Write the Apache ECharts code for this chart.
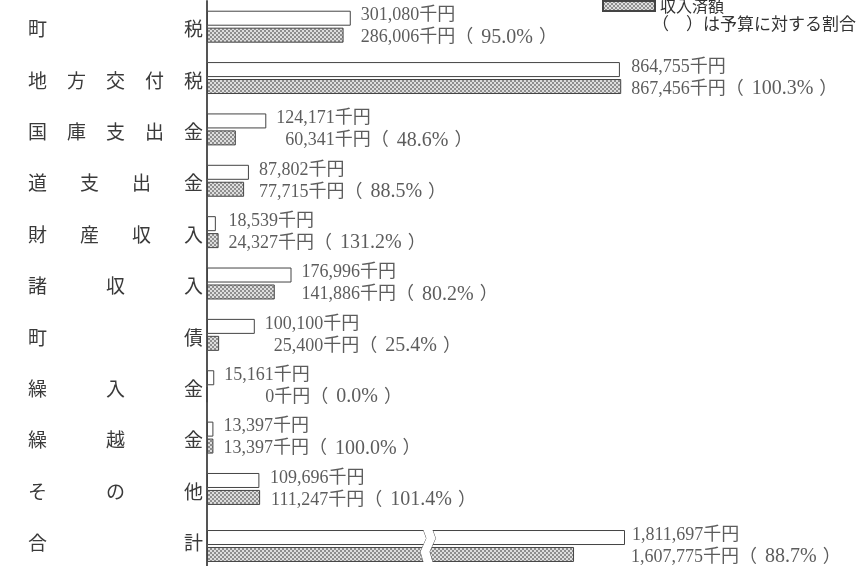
<!DOCTYPE html>
<html><head><meta charset="utf-8">
<script src="https://cdn.jsdelivr.net/npm/echarts@6/dist/echarts.min.js"></script>
<style>html,body{margin:0;padding:0;background:#fff}#c{width:863px;height:566px}</style>
</head><body><div id="c"></div>
<script>
// ---- data ----
const categories = ['町税','地方交付税','国庫支出金','道支出金','財産収入','諸収入','町債','繰入金','繰越金','その他','合計'];
const budget   = [301080, 864755, 124171, 87802, 18539, 176996, 100100, 15161, 13397, 109696, 1811697];
const received = [286006, 867456, 60341, 77715, 24327, 141886, 25400, 0, 13397, 111247, 1607775];
const ratio    = ['95.0','100.3','48.6','88.5','131.2','80.2','25.4','0.0','100.0','101.4','88.7'];
const seriesNames = ['予算額','収入済額'];
const noteText = '（　）は予算に対する割合';
const unit = '千円';

// ---- styles ----
const FONT = '"Liberation Serif", "Noto Sans CJK JP", serif';
const CJK = '"Noto Sans CJK JP"';
const TXT = '#333';
const pc = document.createElement('canvas'); pc.width = 4; pc.height = 4;
const g = pc.getContext('2d');
g.fillStyle = '#8e8e8e'; g.fillRect(0,0,4,4);
g.fillStyle = '#dedede'; g.fillRect(0,0,2,2); g.fillRect(2,2,2,2);
const pattern = { image: pc, repeat: 'repeat' };

const mc = document.createElement('canvas').getContext('2d');
mc.font = '18px "Liberation Serif"';
const fmt = n => n.toLocaleString('en-US');
const rich = {
  t: { fontSize: 18, fontFamily: FONT, color: TXT, lineHeight: 22, align: 'left' },
  q: { fontSize: 20, fontFamily: '"Liberation Serif"', color: TXT, lineHeight: 22, align: 'left', padding: [0, 6, 0, 8] }
};
function labelText(i) {
  const bs = fmt(budget[i]), rs = fmt(received[i]);
  const wb = mc.measureText(bs).width, wr = mc.measureText(rs).width;
  const w = Math.max(wb, wr);
  const pb = Math.round(w - wb), pr = Math.round(w - wr);
  let s1 = '', s2 = '';
  if (pb > 0) { rich['p' + pb] = { width: pb, lineHeight: 22, align: 'left' }; s1 += '{p' + pb + '| }'; }
  if (pr > 0) { rich['p' + pr] = { width: pr, lineHeight: 22, align: 'left' }; s2 += '{p' + pr + '| }'; }
  s1 += '{t|' + bs + unit + '}';
  s2 += '{t|' + rs + unit + '（}{q|' + ratio[i] + '%}{t|）}';
  return s1 + '\n' + s2;
}
const labels = categories.map((c, i) => labelText(i));

const N = categories.length - 1; // rows in main grid
const mainBudget = budget.slice(0, N).concat(['-']);
const mainRecv = received.slice(0, N).concat(['-']);
const mainLabelPts = categories.slice(0, N).map((c, i) => ({ value: [Math.max(budget[i], received[i]), i], idx: i }));

const cs = w => ({ width: w, fontSize: 19, fontFamily: CJK, color: '#3a3a3a', align: 'left' });
const catRich = { c2: cs(156), c3: cs(78), c4: cs(52), c5: cs(39), e: cs(19) };
function catFmt(v) {
  const ch = Array.from(v), n = ch.length;
  return ch.map((c, k) => k === n - 1 ? '{e|' + c + '}' : '{c' + n + '|' + c + '}').join('');
}

const barBase = { type: 'bar', barWidth: 15, barGap: '13%', animation: false, silent: true };
const budgetStyle = { color: '#fff', borderColor: '#444', borderWidth: 1 };
const recvStyle = { color: pattern, borderColor: '#444', borderWidth: 1 };
const labelSeries = (xi, yi, data, dist) => ({
  type: 'scatter', xAxisIndex: xi, yAxisIndex: yi, symbolSize: 0, silent: true, animation: false,
  data: data,
  label: {
    show: true, position: 'right', distance: dist,
    formatter: p => labels[p.data.idx],
    rich: rich
  }
});

const chart = echarts.init(document.getElementById('c'), null, { renderer: 'canvas' });
chart.setOption({
  animation: false,
  backgroundColor: '#fff',
  textStyle: { fontFamily: FONT, color: TXT },
  title: {
    text: noteText, left: 652, top: 15, padding: 0,
    textStyle: { fontSize: 17, fontWeight: 'normal', color: TXT, fontFamily: CJK }
  },
  legend: {
    data: [seriesNames[1]], left: 602, top: -2, padding: 0,
    itemWidth: 52, itemHeight: 10, icon: 'rect',
    textStyle: { fontSize: 16, color: TXT, fontFamily: CJK }
  },
  grid: [
    { left: 207, top: 1, width: 573, height: 571 },
    { left: 207, top: 530, width: 418, height: 32 }
  ],
  xAxis: [
    { gridIndex: 0, type: 'value', min: 0, max: 1200000, show: false },
    { gridIndex: 1, type: 'value', min: 0, max: budget[N],
      axisLine: { show: false }, axisTick: { show: false }, axisLabel: { show: false }, splitLine: { show: false },
      breaks: [{ start: 864000, end: 1040000, gap: '2.2%' }],
      breakArea: {
        show: true, expandOnClick: false,
        zigzagAmplitude: 3, zigzagMinSpan: 8, zigzagMaxSpan: 14, zigzagZ: 100,
        itemStyle: { color: '#fff', borderColor: '#555', borderWidth: 1, borderType: 'solid', opacity: 1 }
      }
    }
  ],
  yAxis: [
    { gridIndex: 0, type: 'category', data: categories, inverse: true,
      axisLine: { show: true, lineStyle: { color: '#555', width: 2 } },
      axisTick: { show: false }, splitLine: { show: false },
      axisLabel: { margin: 4, formatter: catFmt, rich: catRich, padding: [5, 0, 0, 0] }
    },
    { gridIndex: 1, type: 'category', data: [categories[N]], inverse: true, show: false }
  ],
  series: [
    Object.assign({}, barBase, { name: seriesNames[0], xAxisIndex: 0, yAxisIndex: 0, data: mainBudget, itemStyle: budgetStyle }),
    Object.assign({}, barBase, { name: seriesNames[1], xAxisIndex: 0, yAxisIndex: 0, data: mainRecv, itemStyle: recvStyle }),
    labelSeries(0, 0, mainLabelPts, 10),
    Object.assign({}, barBase, { name: seriesNames[0], xAxisIndex: 1, yAxisIndex: 1, data: [budget[N]], itemStyle: budgetStyle }),
    Object.assign({}, barBase, { name: seriesNames[1], xAxisIndex: 1, yAxisIndex: 1, data: [received[N]], itemStyle: recvStyle }),
    labelSeries(1, 1, [{ value: [Math.max(budget[N], received[N]), 0], idx: N }], 6)
  ]
});
</script>
</body></html>
